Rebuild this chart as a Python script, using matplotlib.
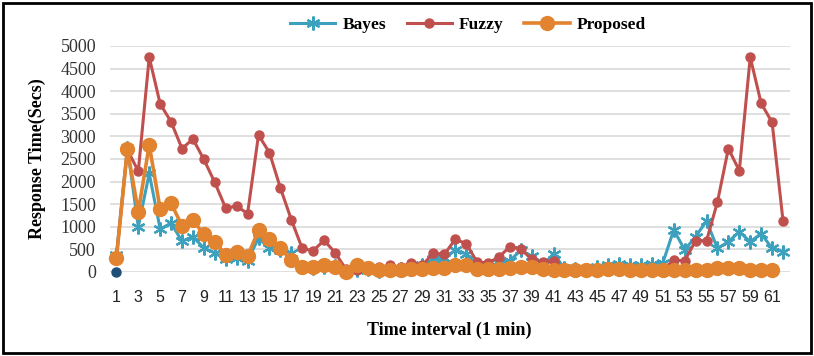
import matplotlib.pyplot as plt
from matplotlib.patches import Rectangle

# response time per 1-minute interval
bayes = [380, 2750, 1000, 2180, 950, 1080, 680, 780, 530, 420,
         280, 320, 250, 750, 520, 480, 430, 100, 80, 120,
         140, 0, 50, 60, 30, 50, 60, 100, 150, 280,
         300, 480, 400, 150, 100, 200, 250, 480, 350, 150,
         400, 80, 60, 50, 100, 150, 180, 150, 150, 180,
         200, 930, 490, 780, 1130, 520, 670, 890, 670, 850,
         520, 450]
fuzzy = [320, 2700, 2230, 4750, 3720, 3320, 2730, 2940, 2490, 1980,
         1410, 1460, 1290, 3030, 2640, 1860, 1160, 520, 470, 700,
         430, 60, 50, 80, 100, 150, 100, 200, 150, 420,
         390, 720, 630, 220, 200, 330, 560, 510, 280, 230,
         250, 60, 40, 40, 40, 40, 50, 40, 40, 50,
         60, 260, 250, 690, 690, 1550, 2730, 2240, 4750, 3730,
         3310, 1130]
proposed = [320, 2710, 1330, 2810, 1390, 1520, 1020, 1150, 830, 670,
            380, 450, 350, 920, 740, 520, 270, 110, 100, 150,
            110, 10, 150, 90, 50, 50, 50, 60, 70, 80,
            90, 160, 160, 70, 60, 60, 90, 120, 100, 70,
            50, 40, 40, 40, 50, 60, 60, 50, 50, 50,
            40, 40, 40, 40, 50, 90, 90, 90, 50, 50,
            40]
extra = [0]

x_b = list(range(1, len(bayes) + 1))
x_f = list(range(1, len(fuzzy) + 1))
x_p = list(range(1, len(proposed) + 1))
xticks = list(range(1, 62, 2))

fig = plt.figure(figsize=(8.14, 3.56), dpi=100)
ax = fig.add_axes([0.135, 0.236, 0.835, 0.635])

ax.plot(x_b, bayes, color='#3DA0BC', lw=2.2, marker=(6, 2, 0), ms=10,
        mew=1.6, label='Bayes', clip_on=False)
ax.plot(x_f, fuzzy, color='#C0504D', lw=2.2, marker='o', ms=6.5,
        label='Fuzzy', clip_on=False)
ax.plot(x_p, proposed, color='#E2832F', lw=2.6, marker='o', ms=10,
        label='Proposed', clip_on=False)
ax.plot([1], extra, color='#1F4E79', marker='o', ms=6.5, ls='none', clip_on=False)

ax.set_xlim(0.4, 62.6)
ax.set_ylim(0, 5000)
ax.set_yticks(range(0, 5001, 500))
ax.set_xticks(xticks)
ax.set_xticklabels([str(t) for t in xticks], fontfamily='Liberation Sans',
                   fontsize=11.5, color='#222222')
for lab in ax.get_yticklabels():
    lab.set_fontfamily('Liberation Serif')
    lab.set_fontsize(13)
    lab.set_color('#333333')
ax.tick_params(axis='y', length=0, pad=10)
ax.tick_params(axis='x', length=0, pad=13)
ax.grid(axis='y', color='#D9D9D9', lw=1.2)
ax.set_axisbelow(True)
for s in ax.spines.values():
    s.set_visible(False)

ax.set_ylabel('Response Time(Secs)', fontfamily='Liberation Serif',
              fontweight='bold', fontsize=13, labelpad=10)
ax.set_xlabel('Time interval (1 min)', fontfamily='Liberation Serif',
              fontweight='bold', fontsize=13, labelpad=12)

fig.legend(loc='center', bbox_to_anchor=(0.575, 0.93), ncol=3, frameon=False,
           prop={'family': 'Liberation Serif', 'weight': 'bold', 'size': 12.5},
           handlelength=2.6, columnspacing=1.2, handletextpad=0.4)

fig.patches.append(Rectangle((0.004, 0.008), 0.992, 0.984, transform=fig.transFigure,
                             fill=False, ec='black', lw=2))

fig.savefig('out.png', dpi=100)
